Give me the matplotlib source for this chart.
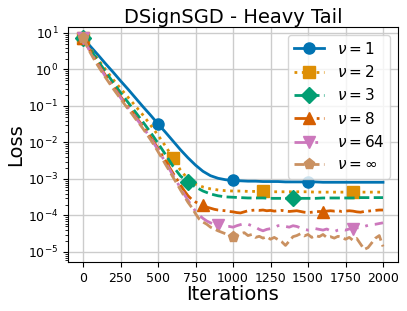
import numpy as np
import matplotlib
matplotlib.use("Agg")
import matplotlib.pyplot as plt

# ---------------- data (log10 of loss) ----------------
iters50 = list(range(0, 2001, 50))
iters25 = list(range(0, 2001, 25))

log_nu1 = [0.87, 0.63, 0.40, 0.16, -0.07, -0.31, -0.54, -0.78, -1.02, -1.25,
           -1.49, -1.72, -1.96, -2.20, -2.42, -2.62, -2.79, -2.91, -2.98, -3.02,
           -3.04, -3.05, -3.06, -3.06, -3.07, -3.07, -3.07, -3.08, -3.08, -3.08,
           -3.08, -3.08, -3.09, -3.09, -3.09, -3.09, -3.09, -3.09, -3.09, -3.09, -3.09]

log_nu2 = [0.87, 0.57, 0.28, 0.00, -0.27, -0.52, -0.76, -1.00, -1.25, -1.52,
           -1.80, -2.10, -2.42, -2.76, -3.00, -3.14, -3.22, -3.27, -3.30, -3.32,
           -3.33, -3.33, -3.34, -3.34, -3.34, -3.35, -3.35, -3.35, -3.35, -3.35,
           -3.35, -3.36, -3.36, -3.36, -3.36, -3.36, -3.36, -3.36, -3.36, -3.36, -3.36]

log_nu3 = [0.87, 0.55, 0.24, -0.06, -0.35, -0.63, -0.90, -1.17, -1.44, -1.72,
           -2.02, -2.33, -2.65, -2.92, -3.08, -3.22, -3.33, -3.41, -3.46, -3.49,
           -3.50, -3.51, -3.52, -3.52, -3.52, -3.53, -3.53, -3.53, -3.53, -3.53,
           -3.53, -3.53, -3.52, -3.52, -3.52, -3.52, -3.52, -3.51, -3.51, -3.51, -3.51]

log_nu8 = [0.87, 0.68, 0.50, 0.33, 0.16, 0.00, -0.16, -0.31, -0.46, -0.60,
           -0.74, -0.88, -1.02, -1.15, -1.29, -1.42, -1.56, -1.70, -1.85, -2.00,
           -2.16, -2.33, -2.50, -2.67, -2.84, -3.00, -3.17, -3.32, -3.46, -3.56,
           -3.63, -3.68, -3.72, -3.77, -3.80, -3.83, -3.85, -3.86, -3.87, -3.89,
           -3.90, -3.92, -3.93, -3.90, -3.87, -3.86, -3.85, -3.86, -3.85, -3.87,
           -3.86, -3.88, -3.87, -3.86, -3.88, -3.89, -3.88, -3.87, -3.89, -3.91,
           -3.92, -3.91, -3.90, -3.89, -3.90, -3.88, -3.87, -3.88, -3.87, -3.89,
           -3.88, -3.87, -3.88, -3.90, -3.91, -3.89, -3.88, -3.87, -3.86, -3.85, -3.85]

log_nu64 = [0.87, 0.66, 0.47, 0.30, 0.13, -0.03, -0.19, -0.34, -0.49, -0.63,
            -0.77, -0.91, -1.05, -1.18, -1.32, -1.45, -1.59, -1.73, -1.88, -2.04,
            -2.20, -2.37, -2.55, -2.72, -2.90, -3.07, -3.25, -3.42, -3.58, -3.74,
            -3.88, -3.99, -4.08, -4.15, -4.20, -4.24, -4.27, -4.29, -4.30, -4.30,
            -4.32, -4.28, -4.25, -4.22, -4.24, -4.28, -4.32, -4.38, -4.42, -4.38,
            -4.36, -4.33, -4.28, -4.27, -4.30, -4.32, -4.28, -4.30, -4.34, -4.38,
            -4.40, -4.38, -4.36, -4.38, -4.40, -4.37, -4.42, -4.44, -4.40, -4.38,
            -4.40, -4.37, -4.36, -4.34, -4.33, -4.30, -4.27, -4.25, -4.24, -4.22, -4.20]

log_nuinf = [0.87, 0.65, 0.45, 0.27, 0.10, -0.06, -0.22, -0.37, -0.52, -0.66,
             -0.80, -0.94, -1.08, -1.21, -1.35, -1.48, -1.62, -1.77, -1.92, -2.08,
             -2.25, -2.42, -2.60, -2.77, -2.95, -3.12, -3.30, -3.47, -3.64, -3.78,
             -3.95, -4.10, -4.18, -4.24, -4.32, -4.37, -4.42, -4.46, -4.50, -4.55,
             -4.60, -4.55, -4.50, -4.47, -4.55, -4.52, -4.60, -4.57, -4.62, -4.58,
             -4.65, -4.60, -4.66, -4.72, -4.82, -4.70, -4.58, -4.55, -4.50, -4.56,
             -4.52, -4.60, -4.55, -4.58, -4.52, -4.60, -4.58, -4.62, -4.57, -4.60,
             -4.65, -4.60, -4.68, -4.63, -4.78, -4.93, -4.88, -4.75, -4.62, -4.55, -4.85]

labels = [r'$\nu = 1$', r'$\nu = 2$', r'$\nu = 3$', r'$\nu = 8$', r'$\nu = 64$', r'$\nu = \infty$']

# ---------------- plotting ----------------
colors = ['#0173b2', '#de8f05', '#029e73', '#d55e00', '#cc78bc', '#ca9161']
styles = ['-', ':', '--', '-.', (0, (5, 2.5, 1, 2.5)), '--']
markers = ['o', 's', 'D', '^', 'v', 'p']
series = [(iters50, log_nu1, 10), (iters50, log_nu2, 12), (iters50, log_nu3, 14),
          (iters25, log_nu8, 32), (iters25, log_nu64, 36), (iters25, log_nuinf, 40)]

fig = plt.figure(figsize=(4.07, 3.11), dpi=100)
ax = fig.add_axes([68 / 407, 1 - 262 / 311, 330 / 407, 235 / 311])

for (x, ly, me), lab, c, ls, mk in zip(series, labels, colors, styles, markers):
    y = 10.0 ** np.array(ly)
    # markers every `me` samples, excluding the final sample
    mark_idx = list(range(0, len(x) - 1, me))
    ax.plot(x, y, color=c, linestyle=ls, marker=mk, markevery=mark_idx,
            markersize=8, linewidth=2, label=lab)

ax.set_yscale('log')
ax.set_xlim(-100, 2100)
ax.set_ylim(10 ** -5.274, 10 ** 1.164)
ax.set_xticks([0, 250, 500, 750, 1000, 1250, 1500, 1750, 2000])
ax.grid(True, which='major', color='#cccccc', linewidth=1)
ax.set_axisbelow(True)
ax.tick_params(axis='both', labelsize=9)
ax.set_title('DSignSGD - Heavy Tail', fontsize=14, pad=3)
ax.set_xlabel('Iterations', fontsize=14, labelpad=0)
ax.set_ylabel('Loss', fontsize=14, labelpad=2)
ax.legend(loc='upper right', fontsize=11, labelspacing=0.48)

fig.savefig('out.png', dpi=100)
